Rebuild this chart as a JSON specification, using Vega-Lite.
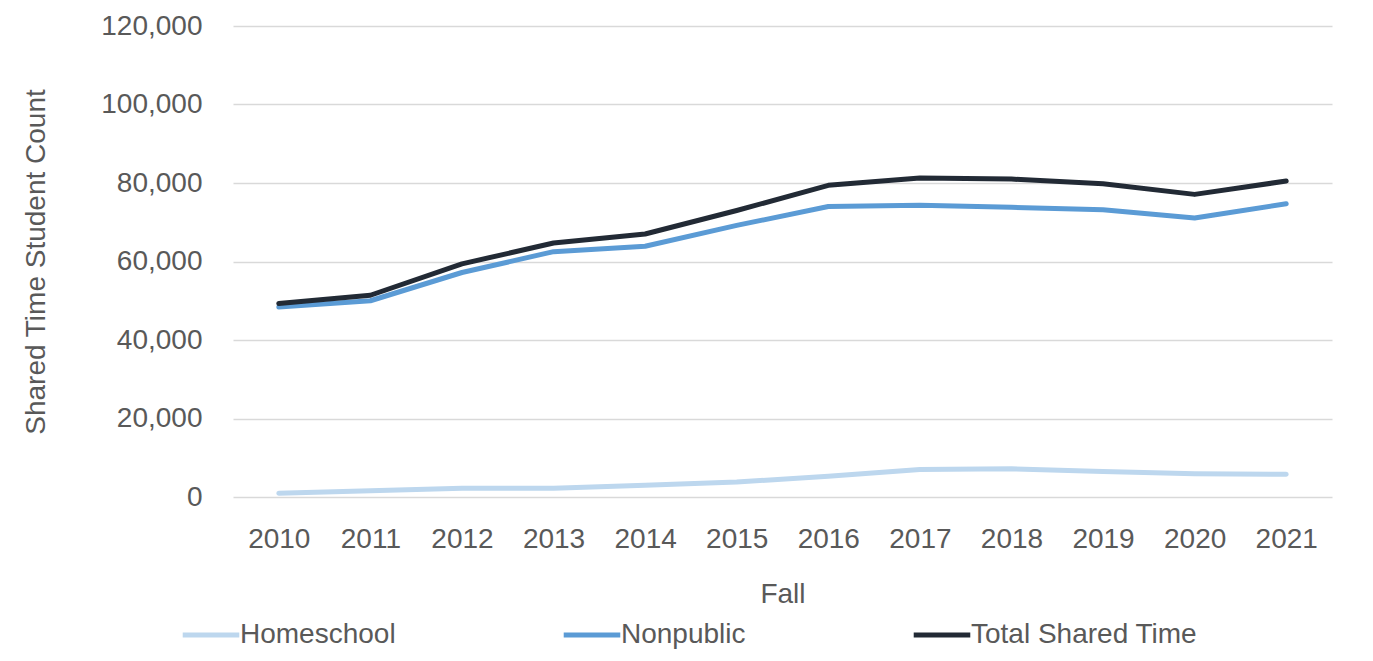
{
  "$schema": "https://vega.github.io/schema/vega-lite/v6.json",
  "width": 1099,
  "height": 471,
  "autosize": {"type": "none"},
  "padding": {"left": 233, "top": 26, "right": 41, "bottom": 164},
  "background": "white",
  "data": {
    "values": [
      {"year": "2010", "series": "Homeschool", "count": 950},
      {"year": "2011", "series": "Homeschool", "count": 1600},
      {"year": "2012", "series": "Homeschool", "count": 2200},
      {"year": "2013", "series": "Homeschool", "count": 2200},
      {"year": "2014", "series": "Homeschool", "count": 3000},
      {"year": "2015", "series": "Homeschool", "count": 3800},
      {"year": "2016", "series": "Homeschool", "count": 5300},
      {"year": "2017", "series": "Homeschool", "count": 7000},
      {"year": "2018", "series": "Homeschool", "count": 7200},
      {"year": "2019", "series": "Homeschool", "count": 6500},
      {"year": "2020", "series": "Homeschool", "count": 5900},
      {"year": "2021", "series": "Homeschool", "count": 5800},
      {"year": "2010", "series": "Nonpublic", "count": 48400},
      {"year": "2011", "series": "Nonpublic", "count": 50000},
      {"year": "2012", "series": "Nonpublic", "count": 57200},
      {"year": "2013", "series": "Nonpublic", "count": 62500},
      {"year": "2014", "series": "Nonpublic", "count": 63900},
      {"year": "2015", "series": "Nonpublic", "count": 69200},
      {"year": "2016", "series": "Nonpublic", "count": 74000},
      {"year": "2017", "series": "Nonpublic", "count": 74300},
      {"year": "2018", "series": "Nonpublic", "count": 73800},
      {"year": "2019", "series": "Nonpublic", "count": 73200},
      {"year": "2020", "series": "Nonpublic", "count": 71100},
      {"year": "2021", "series": "Nonpublic", "count": 74700},
      {"year": "2010", "series": "Total Shared Time", "count": 49300},
      {"year": "2011", "series": "Total Shared Time", "count": 51400},
      {"year": "2012", "series": "Total Shared Time", "count": 59400},
      {"year": "2013", "series": "Total Shared Time", "count": 64700},
      {"year": "2014", "series": "Total Shared Time", "count": 67000},
      {"year": "2015", "series": "Total Shared Time", "count": 73000},
      {"year": "2016", "series": "Total Shared Time", "count": 79400},
      {"year": "2017", "series": "Total Shared Time", "count": 81300},
      {"year": "2018", "series": "Total Shared Time", "count": 81000},
      {"year": "2019", "series": "Total Shared Time", "count": 79800},
      {"year": "2020", "series": "Total Shared Time", "count": 77100},
      {"year": "2021", "series": "Total Shared Time", "count": 80500}
    ]
  },
  "mark": {"type": "line", "strokeWidth": 5, "strokeCap": "round", "strokeJoin": "round"},
  "encoding": {
    "x": {
      "field": "year",
      "type": "ordinal",
      "scale": {"type": "point", "padding": 0.5},
      "title": "Fall",
      "axis": {
        "labelAngle": 0,
        "domain": false,
        "ticks": false,
        "grid": false,
        "labelPadding": 28,
        "titlePadding": 27
      }
    },
    "y": {
      "field": "count",
      "type": "quantitative",
      "scale": {"domain": [0, 120000], "nice": false},
      "title": "Shared Time Student Count",
      "axis": {
        "values": [0, 20000, 40000, 60000, 80000, 100000, 120000],
        "format": ",d",
        "domain": false,
        "ticks": false,
        "labelPadding": 31,
        "titlePadding": 50,
        "gridColor": "#D9D9D9",
        "gridWidth": 1.5
      }
    },
    "color": {
      "field": "series",
      "type": "nominal",
      "scale": {
        "domain": ["Homeschool", "Nonpublic", "Total Shared Time"],
        "range": ["#BDD7EE", "#5B9BD5", "#222A35"]
      },
      "legend": {
        "title": null,
        "orient": "none",
        "direction": "horizontal",
        "legendX": -53,
        "legendY": 578,
        "symbolType": "stroke",
        "symbolSize": 3200,
        "symbolStrokeWidth": 5,
        "labelOffset": -2,
        "columnPadding": 157
      }
    }
  },
  "config": {
    "view": {"stroke": null},
    "font": "Liberation Sans",
    "axis": {
      "labelFont": "Liberation Sans",
      "titleFont": "Liberation Sans",
      "labelFontSize": 28,
      "titleFontSize": 28,
      "labelColor": "#595959",
      "titleColor": "#595959",
      "titleFontWeight": "normal"
    },
    "legend": {
      "labelFont": "Liberation Sans",
      "labelFontSize": 28,
      "labelColor": "#595959",
      "labelLimit": 400
    }
  }
}
